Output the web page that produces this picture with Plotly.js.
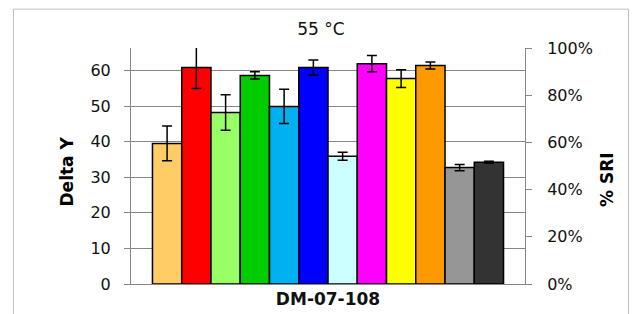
<!DOCTYPE html>
<html>
<head>
<meta charset="utf-8">
<script src="https://cdn.plot.ly/plotly-3.0.1.min.js"></script>
<style>
html,body{margin:0;padding:0;background:#fff;}
#chart{width:635px;height:314px;}
</style>
</head>
<body>
<div id="chart"></div>
<script>
// Data
const categories = ['DM-07-108'];
const seriesNames = ['S1','S2','S3','S4','S5','S6','S7','S8','S9','S10','S11','S12'];
const deltaY = [39.5, 60.8, 48.2, 58.6, 49.9, 60.8, 35.9, 61.9, 57.7, 61.4, 32.7, 34.2];
const errors = [4.9, 5.9, 5.0, 1.0, 4.8, 2.1, 1.1, 2.3, 2.5, 1.0, 0.9, 0.3];
const leftTicks = [0, 10, 20, 30, 40, 50, 60];
const rightTicks = [0, 0.2, 0.4, 0.6, 0.8, 1.0];
const rightTickLabels = ['0%', '20%', '40%', '60%', '80%', '100%'];

// Styles
const colors = ['#FFCC66','#FF0000','#99FF66','#00CC00','#00B0F0','#0000FF',
                '#CCFFFF','#FF00FF','#FFFF00','#FF9900','#969696','#333333'];

const traces = seriesNames.map((n, i) => ({
  type: 'bar',
  name: n,
  x: categories,
  y: [deltaY[i]],
  marker: {color: colors[i], line: {color: '#000', width: 1.5}},
  error_y: {type: 'data', array: [errors[i]], visible: true, color: '#000', thickness: 1.5, width: 5},
  hoverinfo: 'none'
}));
traces.push({
  type: 'scatter', mode: 'markers', x: categories, y: [null], yaxis: 'y2',
  showlegend: false, hoverinfo: 'none'
});

const tickFont = {family: 'DejaVu Sans', size: 16, color: '#111'};
const grayLine = '#868686';

const layout = {
  width: 635, height: 314,
  margin: {l: 131, r: 110, t: 47.5, b: 29.5, autoexpand: false},
  paper_bgcolor: '#fff', plot_bgcolor: '#fff',
  showlegend: false,
  barmode: 'group', bargap: 0.109, bargroupgap: 0,
  title: {text: '55 °C', x: 0.5055, xanchor: 'center', y: 0.909, yanchor: 'middle',
          font: {family: 'DejaVu Sans', size: 17, color: '#111'}},
  xaxis: {
    type: 'category', showline: true, linecolor: grayLine, linewidth: 1,
    ticks: '', showgrid: false, zeroline: false,
    tickfont: {family: 'DejaVu Sans', size: 17, color: '#111', weight: 'bold'}
  },
  yaxis: {
    range: [0, 66.3], autorange: false, tickvals: leftTicks,
    showline: true, linecolor: grayLine, linewidth: 1,
    ticks: 'outside', ticklen: 6, tickcolor: grayLine, tickwidth: 1,
    showgrid: true, gridcolor: grayLine, gridwidth: 1, zeroline: false,
    tickfont: tickFont, ticklabelstandoff: 10
  },
  yaxis2: {
    overlaying: 'y', side: 'right', range: [0, 1], autorange: false,
    tickvals: rightTicks, ticktext: rightTickLabels,
    showline: true, linecolor: grayLine, linewidth: 1,
    ticks: 'outside', ticklen: 6, tickcolor: grayLine, tickwidth: 1,
    showgrid: false, zeroline: false, tickfont: tickFont, ticklabelstandoff: 12
  },
  annotations: [
    {text: '<b>Delta Y</b>', xref: 'paper', yref: 'paper', x: -0.1624, y: 0.4768,
     xanchor: 'center', yanchor: 'middle', textangle: -90, showarrow: false,
     font: {family: 'DejaVu Sans', size: 17, color: '#000'}},
    {text: '<b>% SRI</b>', xref: 'paper', yref: 'paper', x: 1.208, y: 0.445,
     xanchor: 'center', yanchor: 'middle', textangle: -90, showarrow: false,
     font: {family: 'DejaVu Sans', size: 17, color: '#000'}}
  ],
  shapes: [
    {type: 'rect', xref: 'paper', yref: 'paper', x0: -0.2982, x1: 1.2627, y0: -0.25, y1: 1.1646,
     line: {color: '#bfbfbf', width: 1}, fillcolor: 'rgba(0,0,0,0)', layer: 'below'}
  ]
};

Plotly.newPlot('chart', traces, layout, {staticPlot: true, displayModeBar: false});
</script>
</body>
</html>
